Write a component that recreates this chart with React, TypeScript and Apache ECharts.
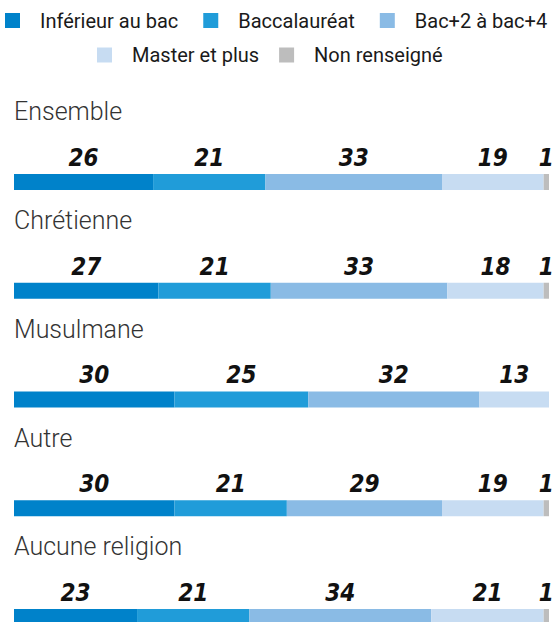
import React, { useEffect, useRef } from "react";
import * as echarts from "echarts";

const categories = ["Ensemble", "Chrétienne", "Musulmane", "Autre", "Aucune religion"];
const seriesNames = ["Inférieur au bac", "Baccalauréat", "Bac+2 à bac+4", "Master et plus", "Non renseigné"];
const inferieurAuBac = [26, 27, 30, 30, 23];
const baccalaureat = [21, 21, 25, 21, 21];
const bac2aBac4 = [33, 33, 32, 29, 34];
const masterEtPlus = [19, 18, 13, 19, 21];
const nonRenseigne = [1, 1, 0, 1, 1];
const colors = ["#0082CA", "#209CD9", "#8ABBE5", "#C7DCF2", "#BDBDBD"];

const allValues = [inferieurAuBac, baccalaureat, bac2aBac4, masterEtPlus, nonRenseigne];

export default function App() {
  const ref = useRef<HTMLDivElement>(null);
  useEffect(() => {
    if (!ref.current) return;
    const chart = echarts.init(ref.current, undefined, { renderer: "svg" });
    const legendText = { fontSize: 20, fontFamily: "Roboto", color: "#1a1a1a", padding: [0, 0, 0, 15] };
    chart.setOption({
      animation: false,
      color: colors,
      legend: [
        {
          data: seriesNames.slice(0, 3),
          left: 5,
          top: 10.5,
          padding: 0,
          itemWidth: 15,
          itemHeight: 15,
          itemGap: 25,
          icon: "rect",
          textStyle: legendText,
        },
        {
          data: seriesNames.slice(3),
          left: 97,
          top: 45,
          padding: 0,
          itemWidth: 15,
          itemHeight: 15,
          itemGap: 20,
          icon: "rect",
          textStyle: legendText,
        },
      ],
      grid: { left: 14, right: 4, top: 127.6, height: 543.75 },
      xAxis: { type: "value", min: 0, max: 100, show: false },
      yAxis: {
        type: "category",
        data: categories,
        inverse: true,
        axisLine: { show: false },
        axisTick: { show: false },
        splitLine: { show: false },
        axisLabel: {
          inside: true,
          interval: 0,
          margin: 0,
          fontSize: 25,
          fontWeight: 300,
          fontFamily: "Roboto",
          color: "#333",
          verticalAlign: "bottom",
          lineHeight: 140,
        },
      },
      series: seriesNames.map((name, i) => ({
        name,
        type: "bar",
        stack: "total",
        barWidth: 16,
        data: allValues[i],
        itemStyle: { color: colors[i] },
        label: {
          show: true,
          position: "top",
          distance: 4,
          formatter: (p: any) => (p.value > 0 ? String(p.value) : ""),
          fontSize: 24,
          fontWeight: "bold",
          fontStyle: "italic",
          fontFamily: "'Liberation Sans Narrow', 'DejaVu Sans Condensed', Roboto",
          color: "#111",
        },
      })),
    });
    return () => chart.dispose();
  }, []);
  return (
    <div style={{ position: "absolute", left: 0, top: 0, width: 553, height: 622, overflow: "hidden" }}>
      <div ref={ref} style={{ width: 553, height: 700 }} />
    </div>
  );
}
